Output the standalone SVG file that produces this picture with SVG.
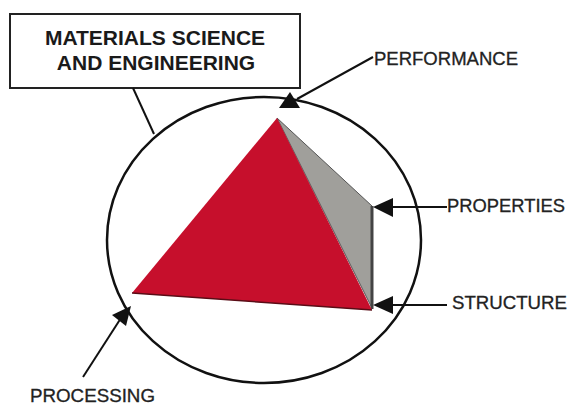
<svg xmlns="http://www.w3.org/2000/svg" width="568" height="405" viewBox="0 0 568 405">
<style>
.lbl{font-family:"Liberation Sans",Arial,sans-serif;font-size:18px;fill:#222;stroke:#222;stroke-width:0.3}
.ttl{font-family:"Liberation Sans",Arial,sans-serif;font-size:21px;font-weight:bold;fill:#1a1a1a;text-anchor:middle}
.ln{stroke:#111;stroke-width:2;fill:none}
.ah{fill:#111}
</style>
<rect width="568" height="405" fill="#fff"/>
<g id="title">
<rect x="10" y="14" width="290" height="74" fill="#fff" stroke="#222" stroke-width="2"/>
<text class="ttl" x="155" y="45">MATERIALS SCIENCE</text>
<text class="ttl" x="156" y="70">AND ENGINEERING</text>
</g>
<g id="circle">
<ellipse cx="264" cy="240" rx="157" ry="143" fill="none" stroke="#111" stroke-width="2.5"/>
</g>
<g id="tetrahedron">
<polygon points="277,118 372,206 372,308" fill="#a09f9b" stroke="#555" stroke-width="1"/>
<line x1="372" y1="206" x2="372" y2="309" stroke="#444" stroke-width="3"/>
<polygon points="277,118 132,293 372,310" fill="#c60f2c"/>
<line x1="132" y1="293" x2="372" y2="310" stroke="#5a0c16" stroke-width="1.5"/>
</g>
<g id="connectors">
<line class="ln" x1="133" y1="88" x2="154" y2="134"/>
<line class="ln" x1="373" y1="57" x2="297" y2="99"/>
<polygon class="ah" points="290,92 279,108 300,108"/>
<line class="ln" x1="390" y1="207" x2="447" y2="207" stroke-width="2.5"/>
<polygon class="ah" points="373,207 393,198 393,217"/>
<line class="ln" x1="390" y1="305" x2="447" y2="305" stroke-width="2.5"/>
<polygon class="ah" points="373,305 393,296 393,314"/>
<line class="ln" x1="83" y1="377" x2="121" y2="318"/>
<polygon class="ah" points="131,306 112,315 126,326"/>
</g>
<g id="labels">
<text class="lbl" x="374" y="65" textLength="144" lengthAdjust="spacingAndGlyphs">PERFORMANCE</text>
<text class="lbl" x="447" y="212" textLength="118" lengthAdjust="spacingAndGlyphs">PROPERTIES</text>
<text class="lbl" x="452" y="309" textLength="115" lengthAdjust="spacingAndGlyphs">STRUCTURE</text>
<text class="lbl" x="30" y="402" textLength="125" lengthAdjust="spacingAndGlyphs">PROCESSING</text>
</g>
</svg>
